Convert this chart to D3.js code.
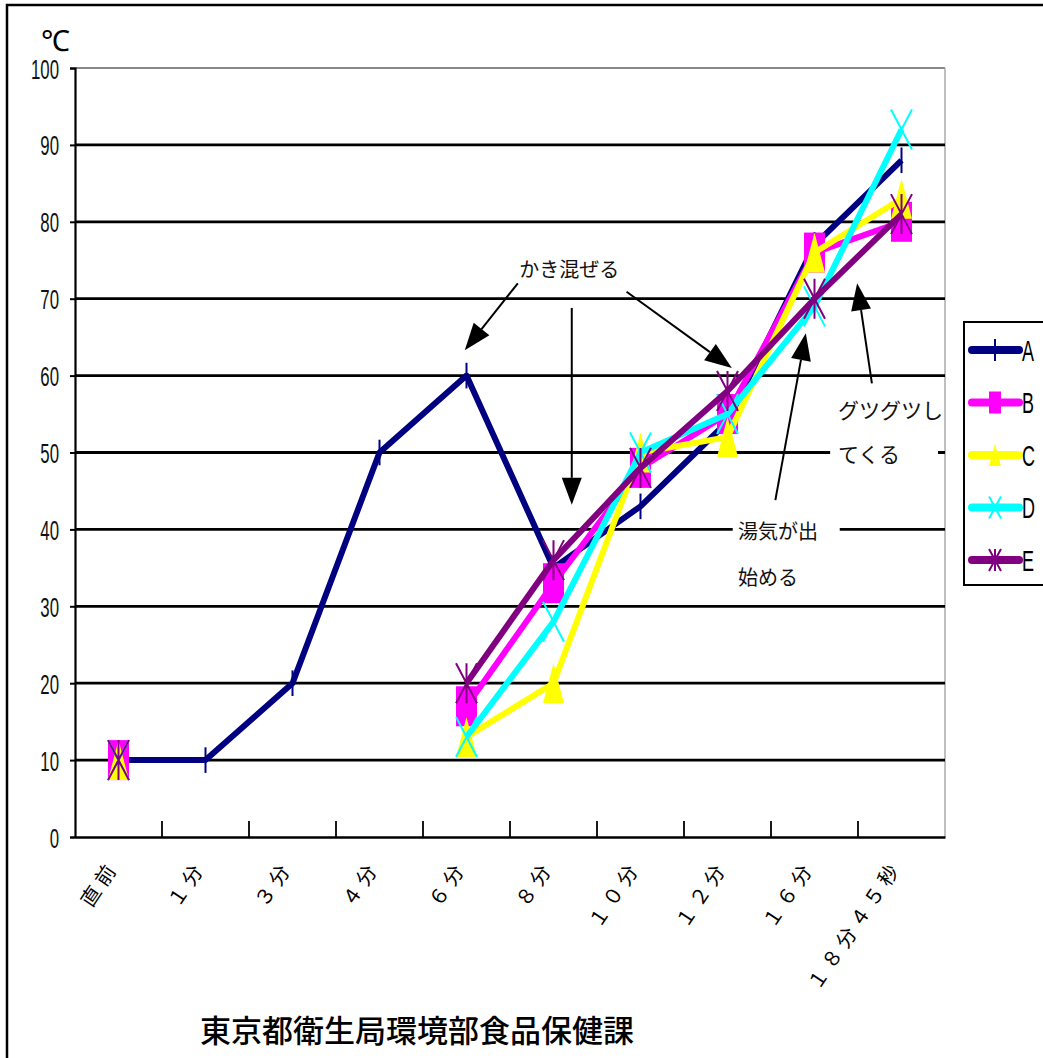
<!DOCTYPE html>
<html>
<head>
<meta charset="utf-8">
<style>
  body { margin: 0; background: #fff; }
  text { font-family: "Noto Sans CJK JP", "Liberation Sans", sans-serif; }
  .num { font-family: "Liberation Sans", "Arial", sans-serif; }
</style>
</head>
<body>
<div id="container"></div>
<script src="https://cdn.jsdelivr.net/npm/d3@7"></script>
<script>

// data
var categories = ["直前", "１分", "３分", "４分", "６分", "８分", "１０分", "１２分", "１６分", "１８分４５秒"];
var seriesNames = ["A", "B", "C", "D", "E"];
var seriesA = [10, 10, 20, 50, 60, 35, 43, 54, 77, 88];
var seriesB = [10, null, null, null, 17, 33, 48, 55, 76, 80];
var seriesC = [10, null, null, null, 13, 20, 50, 52, 76, 83];
var seriesD = [10, null, null, null, 13, 28, 50, 55, 69, 92];
var seriesE = [10, null, null, null, 20, 36, 48, 58, 70, 81];
var yTicks = [0, 10, 20, 30, 40, 50, 60, 70, 80, 90, 100];
var colors = ["#000080", "#ff00ff", "#ffff00", "#00ffff", "#800080"];

var allSeries = [seriesA, seriesB, seriesC, seriesD, seriesE];

var W = 1043, H = 1058;
var margin = {top: 68, left: 75, right: 98, bottom: 221};

var svg = d3.select("#container")
  .append("svg")
    .attr("width", W)
    .attr("height", H);

// outer frame (cut off at right / bottom)
svg.append("rect")
  .attr("x", 7).attr("y", 5)
  .attr("width", W).attr("height", H)
  .attr("fill", "none")
  .attr("stroke", "#000")
  .attr("stroke-width", 2.5);

var x = d3.scaleBand()
  .domain(categories)
  .range([margin.left, W - margin.right])
  .padding(0);

var y = d3.scaleLinear()
  .domain([0, 100])
  .range([H - margin.bottom, margin.top]);

// fractional category index -> pixel, for annotations
var xi = d3.scaleLinear()
  .domain([-0.5, categories.length - 0.5])
  .range([margin.left, W - margin.right]);

var cx = function(i) { return x(categories[i]) + x.bandwidth() / 2; };

// plot border (grey top / right)
svg.append("line")
  .attr("x1", x.range()[0]).attr("x2", x.range()[1])
  .attr("y1", y(100)).attr("y2", y(100))
  .attr("stroke", "#888").attr("stroke-width", 2);
svg.append("line")
  .attr("x1", x.range()[1]).attr("x2", x.range()[1])
  .attr("y1", y(100)).attr("y2", y(0))
  .attr("stroke", "#aaa").attr("stroke-width", 1.5);

// grid lines
svg.append("g")
  .selectAll("line")
  .data(yTicks.filter(function(d) { return d > 0 && d < 100; }))
  .enter()
  .append("line")
    .attr("x1", x.range()[0]).attr("x2", x.range()[1])
    .attr("y1", function(d) { return y(d); })
    .attr("y2", function(d) { return y(d); })
    .attr("stroke", "#000")
    .attr("stroke-width", 2.8);

// white boxes behind the annotation texts
var boxes = [
  {i0: 7.06, i1: 8.29, v0: 42.0, v1: 30.2},
  {i0: 8.18, i1: 9.42, v0: 57.5, v1: 47.7}
];
svg.append("g")
  .selectAll("rect")
  .data(boxes)
  .enter()
  .append("rect")
    .attr("x", function(d) { return xi(d.i0); })
    .attr("y", function(d) { return y(d.v0); })
    .attr("width", function(d) { return xi(d.i1) - xi(d.i0); })
    .attr("height", function(d) { return y(d.v1) - y(d.v0); })
    .attr("fill", "#fff");

// y axis
var yAxis = svg.append("g")
  .attr("transform", "translate(" + margin.left + ",0)")
  .call(d3.axisLeft(y).tickValues(yTicks).tickSize(5).tickPadding(11));
yAxis.select(".domain").attr("stroke", "#000").attr("stroke-width", 2.2);
yAxis.selectAll(".tick line").attr("stroke", "#000").attr("stroke-width", 2);
// tall, narrow digits
yAxis.selectAll(".tick text")
  .attr("class", "num")
  .attr("x", 0)
  .attr("dy", "0.36em")
  .attr("transform", "translate(-16,0) scale(0.6,1)")
  .attr("fill", "#111")
  .style("font-size", "28px");

// x axis
var xAxis = svg.append("g")
  .attr("transform", "translate(0," + y(0) + ")")
  .call(d3.axisBottom(x).tickSize(0).tickPadding(0));
xAxis.select(".domain").attr("stroke", "#000").attr("stroke-width", 2.6);
xAxis.selectAll(".tick text")
  .attr("text-anchor", "end")
  .attr("dy", 0)
  .attr("y", 0)
  .attr("transform", "translate(1,30) rotate(-56)")
  .attr("fill", "#000")
  .style("letter-spacing", "5px")
  .style("font-size", "20px");

// inner tick marks at category boundaries
svg.append("g")
  .selectAll("line")
  .data(categories.slice(1))
  .enter()
  .append("line")
    .attr("x1", function(d) { return x(d); })
    .attr("x2", function(d) { return x(d); })
    .attr("y1", y(0) - 16)
    .attr("y2", y(0))
    .attr("stroke", "#000")
    .attr("stroke-width", 1.8);

// ℃ label
svg.append("text")
  .attr("x", 41).attr("y", 51)
  .text("℃")
  .style("font-family", "Liberation Sans, sans-serif")
  .style("font-size", "29px");

// markers
function drawMarker(g, k, px, py, w, h, color) {
  if (k == 0) {
    g.append("line")
      .attr("x1", px).attr("x2", px)
      .attr("y1", py - h * 0.32).attr("y2", py + h * 0.32)
      .attr("stroke", color).attr("stroke-width", 2);
  } else if (k == 1) {
    g.append("rect")
      .attr("x", px - w / 2).attr("y", py - h / 2)
      .attr("width", w).attr("height", h)
      .attr("fill", color);
  } else if (k == 2) {
    g.append("path")
      .attr("d", "M" + px + "," + (py - h / 2) + "L" + (px + w / 2) + "," + (py + h / 2) + "L" + (px - w / 2) + "," + (py + h / 2) + "Z")
      .attr("fill", color);
  } else if (k == 3) {
    g.append("path")
      .attr("d", "M" + (px - w / 2) + "," + (py - h / 2) + "L" + (px + w / 2) + "," + (py + h / 2) +
                 "M" + (px + w / 2) + "," + (py - h / 2) + "L" + (px - w / 2) + "," + (py + h / 2))
      .attr("stroke", color).attr("stroke-width", 2).attr("fill", "none");
  } else {
    g.append("path")
      .attr("d", "M" + (px - w / 2) + "," + (py - h / 2) + "L" + (px + w / 2) + "," + (py + h / 2) +
                 "M" + (px + w / 2) + "," + (py - h / 2) + "L" + (px - w / 2) + "," + (py + h / 2) +
                 "M" + px + "," + (py - h / 2) + "L" + px + "," + (py + h / 2))
      .attr("stroke", color).attr("stroke-width", 2).attr("fill", "none");
  }
}

var line = d3.line()
  .defined(function(d) { return d != null; })
  .x(function(d, i) { return cx(i); })
  .y(function(d) { return y(d); });

allSeries.forEach(function(vals, k) {
  var g = svg.append("g");
  g.append("path")
    .datum(vals)
    .attr("d", line)
    .attr("fill", "none")
    .attr("stroke", colors[k])
    .attr("stroke-width", 6)
    .attr("stroke-linejoin", "round");
  vals.forEach(function(v, i) {
    if (v == null) return;
    drawMarker(g, k, cx(i), y(v), k == 0 ? 2 : 21, 40, colors[k]);
  });
});

// annotations
var arrows = [
  {i0: 4.59, v0: 72.0, i1: 3.98, v1: 63.3},
  {i0: 5.84, v0: 70.9, i1: 7.05, v1: 61.0},
  {i0: 5.21, v0: 68.8, i1: 5.21, v1: 43.2},
  {i0: 7.55, v0: 43.8, i1: 7.90, v1: 65.5},
  {i0: 8.66, v0: 59.0, i1: 8.49, v1: 72.0}
];
var ag = svg.append("g");
arrows.forEach(function(a) {
  var x0 = xi(a.i0), y0 = y(a.v0), x1 = xi(a.i1), y1 = y(a.v1);
  var ang = Math.atan2(y1 - y0, x1 - x0);
  var len = 27, hw = 10;
  var bx = x1 - len * Math.cos(ang), by = y1 - len * Math.sin(ang);
  ag.append("line")
    .attr("x1", x0).attr("y1", y0).attr("x2", bx).attr("y2", by)
    .attr("stroke", "#000").attr("stroke-width", 2);
  ag.append("path")
    .attr("d", "M" + x1 + "," + y1 +
      "L" + (bx - hw * Math.sin(ang)) + "," + (by + hw * Math.cos(ang)) +
      "L" + (bx + hw * Math.sin(ang)) + "," + (by - hw * Math.cos(ang)) + "Z")
    .attr("fill", "#000");
});

var notes = [
  {t: "かき混ぜる", i: 5.18, v: 73.7, anchor: "middle", size: 20},
  {t: "湯気が出", i: 7.12, v: 39.7, anchor: "start", size: 20},
  {t: "始める", i: 7.12, v: 33.7, anchor: "start", size: 20},
  {t: "グツグツし", i: 8.27, v: 55.5, anchor: "start", size: 21},
  {t: "てくる", i: 8.27, v: 49.7, anchor: "start", size: 21}
];
svg.append("g")
  .selectAll("text")
  .data(notes)
  .enter()
  .append("text")
    .attr("x", function(d) { return xi(d.i); })
    .attr("y", function(d) { return y(d.v); })
    .attr("dy", "0.35em")
    .attr("text-anchor", function(d) { return d.anchor; })
    .style("font-size", function(d) { return d.size + "px"; })
    .style("fill", "#111")
    .text(function(d) { return d.t; });

// legend
var legend = svg.append("g");
legend.append("rect")
  .attr("x", 964).attr("y", 322)
  .attr("width", 120).attr("height", 263)
  .attr("fill", "#fff")
  .attr("stroke", "#000")
  .attr("stroke-width", 2);

seriesNames.forEach(function(name, k) {
  var ly = 350 + k * 52.5;
  legend.append("line")
    .attr("x1", 972).attr("x2", 1019)
    .attr("y1", ly).attr("y2", ly)
    .attr("stroke", colors[k])
    .attr("stroke-width", 8)
    .attr("stroke-linecap", "round");
  drawMarker(legend, k, 995, ly, k == 0 ? 2 : 12, k == 0 ? 34 : 22, colors[k]);
  legend.append("text")
    .attr("class", "num")
    .attr("dy", "0.36em")
    .attr("transform", "translate(1022," + ly + ") scale(0.6,1)")
    .style("font-size", "30px")
    .text(name);
});

// footer
svg.append("text")
  .attr("x", 417).attr("y", 1042)
  .attr("text-anchor", "middle")
  .style("font-size", "31px")
  .style("font-weight", "500")
  .text("東京都衛生局環境部食品保健課");

</script>
</body>
</html>
